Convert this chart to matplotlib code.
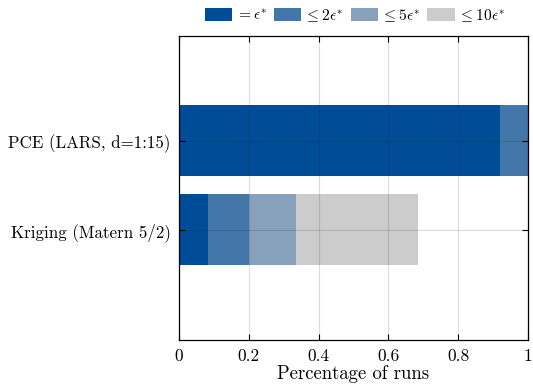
import numpy as np
import matplotlib
matplotlib.use("Agg")
import matplotlib.pyplot as plt

plt.rcParams['font.family'] = 'serif'
plt.rcParams['font.serif'] = ['cmr10', 'DejaVu Serif']
plt.rcParams['mathtext.fontset'] = 'cm'
plt.rcParams['axes.formatter.use_mathtext'] = True

# data: cumulative share of runs within each error level
methods = ["PCE (LARS, d=1:15)", "Kriging (Matern 5/2)"]
levels = [r"$= \epsilon^{*}$", r"$\leq 2\epsilon^{*}$", r"$\leq 5\epsilon^{*}$", r"$\leq 10\epsilon^{*}$"]
pce_cum = [0.92, 1.0, 1.0, 1.0]
krig_cum = [0.083, 0.20, 0.335, 0.685]
colors = ["#004c97", "#4477a9", "#87a1bd", "#cccccc"]

fig = plt.figure(figsize=(5.33, 3.85), dpi=100)
ax = fig.add_axes([179/533, 1 - 340/385, 349/533, 304/385])

ypos = np.array([1, 0])
cums = np.array([pce_cum, krig_cum])
# draw widest level first so narrower ones sit on top
for k in range(len(levels) - 1, -1, -1):
    ax.barh(ypos, cums[:, k], height=0.8, color=colors[k], label=levels[k], zorder=1)

ax.set_xlim(0, 1)
ax.set_ylim(-1.24, 2.18)
ax.set_yticks(ypos)
ax.set_yticklabels(methods, fontsize=12.2)
ax.set_xticks([0, 0.2, 0.4, 0.6, 0.8, 1])
ax.set_xticklabels(["0", "0.2", "0.4", "0.6", "0.8", "1"], fontsize=12.5)
ax.set_xlabel("Percentage of runs", fontsize=13.5, labelpad=1)

ax.set_axisbelow(False)
ax.grid(True, color="#262626", alpha=0.17, linewidth=0.8, zorder=5)
ax.tick_params(direction="in", length=4, width=0.8, top=True, right=True, pad=6)
for s in ax.spines.values():
    s.set_linewidth(0.9)
    s.set_zorder(6)

handles, labels = ax.get_legend_handles_labels()
handles, labels = handles[::-1], labels[::-1]
fig.legend(handles, labels, loc="upper center", bbox_to_anchor=(0.666, 1.01), ncol=4,
           frameon=False, fontsize=11.2, handlelength=1.75, handleheight=0.95,
           handletextpad=0.2, columnspacing=0.45, borderaxespad=0.3)

fig.savefig("out.png", dpi=100)
